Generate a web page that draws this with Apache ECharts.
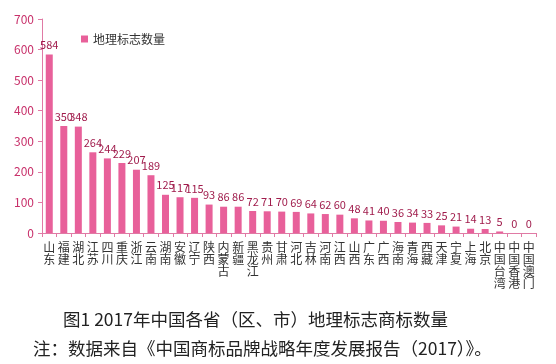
<!DOCTYPE html>
<html><head><meta charset="utf-8">
<script src="https://cdn.jsdelivr.net/npm/echarts@6/dist/echarts.min.js"></script>
<style>html,body{margin:0;padding:0;background:#fff}#c{width:556px;height:364px}</style>
</head><body><div id="c"></div>
<script>
const categories = ['山东','福建','湖北','江苏','四川','重庆','浙江','云南','湖南','安徽','辽宁','陕西','内蒙古','新疆','黑龙江','贵州','甘肃','河北','吉林','河南','江西','山西','广东','广西','海南','青海','西藏','天津','宁夏','上海','北京','中国台湾','中国香港','中国澳门'];
const values = [584,350,348,264,244,229,207,189,125,117,115,93,86,86,72,71,70,69,64,62,60,48,41,40,36,34,33,25,21,14,13,5,0,0];
const yTicks = [0,100,200,300,400,500,600,700];
const seriesName = '地理标志数量';
const caption1 = '图1 2017年中国各省（区、市）地理标志商标数量';
const caption2 = '注：数据来自《中国商标品牌战略年度发展报告（2017）》。';

const chart = echarts.init(document.getElementById('c'));
const pink = '#e8609a';
const axisPink = '#e07aa5';
chart.setOption({
  animation: false,
  textStyle: {fontFamily: '"Noto Sans CJK SC", sans-serif'},
  grid: {left: 42, right: 20, top: 19, bottom: 131},
  legend: {
    data: [seriesName], left: 76, top: 28, itemWidth: 7, itemHeight: 7, itemGap: 4,
    icon: 'rect', textStyle: {fontSize: 12, color: '#333'}
  },
  graphic: [
    {type: 'text', left: 63, top: 311, style: {text: caption1, font: '17.5px "Noto Sans CJK SC"', fill: '#222'}},
    {type: 'text', left: 33, top: 340, style: {text: caption2, font: '17.5px "Noto Sans CJK SC"', fill: '#222'}}
  ],
  xAxis: {
    type: 'category', data: categories,
    axisLine: {lineStyle: {color: axisPink}},
    axisTick: {show: true, lineStyle: {color: axisPink}, length: 4},
    axisLabel: {interval: 0, color: '#333', fontSize: 12, lineHeight: 12,
      formatter: v => v.split('').join('\n')}
  },
  yAxis: {
    type: 'value', min: 0, max: 700, interval: 100,
    axisLine: {show: true, lineStyle: {color: axisPink}},
    axisTick: {show: true, lineStyle: {color: axisPink}, length: 4},
    splitLine: {show: false},
    axisLabel: {color: '#c8306a', fontSize: 12, formatter: v => yTicks.includes(v) ? String(v) : ''}
  },
  series: [{
    name: seriesName, type: 'bar', data: values, barWidth: 7,
    itemStyle: {color: pink},
    label: {show: true, position: 'top', color: '#a01c4c', fontSize: 11, distance: 4}
  }]
});
</script></body></html>
